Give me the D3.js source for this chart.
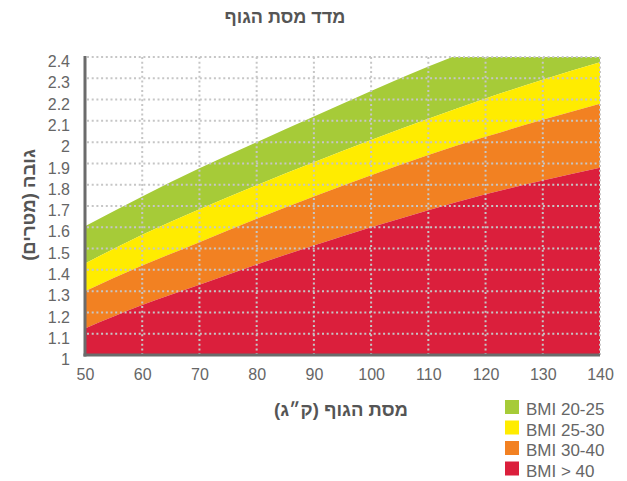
<!DOCTYPE html>
<html lang="he">
<head>
<meta charset="utf-8">
<script src="https://cdn.jsdelivr.net/npm/d3@7"></script>
<style>
  html, body { margin: 0; padding: 0; background: #fff; }
  svg { display: block; font-family: "Liberation Sans", Arial, Helvetica, sans-serif; }
</style>
</head>
<body>
<svg id="chart" width="627" height="481"></svg>
<script>
// Weight (kg) samples along the x axis
const weights = [50, 60, 70, 80, 90, 100, 110, 120, 130, 140];

// Height (m) of each BMI boundary at the weights above
const bmi20 = [1.605, 1.745, 1.877, 2.0, 2.12, 2.24, 2.355, 2.46, 2.56, 2.66];
const bmi25 = [1.43, 1.565, 1.685, 1.798, 1.905, 2.01, 2.11, 2.205, 2.293, 2.375];
const bmi30 = [1.30, 1.42, 1.53, 1.64, 1.745, 1.845, 1.94, 2.025, 2.105, 2.18];
const bmi40 = [1.125, 1.235, 1.33, 1.425, 1.515, 1.60, 1.68, 1.755, 1.82, 1.88];

// Tick values
const xTicks = [50, 60, 70, 80, 90, 100, 110, 120, 130, 140];
const yTicks = [1, 1.1, 1.2, 1.3, 1.4, 1.5, 1.6, 1.7, 1.8, 1.9, 2, 2.1, 2.2, 2.3, 2.4];

// Band names and colours (legend order)
const bandNames = ["BMI 20-25", "BMI 25-30", "BMI 30-40", "BMI > 40"];
const bandColors = ["#a6cb38", "#ffec00", "#f28122", "#db1f3c"];

const title = "מדד מסת הגוף";
const xTitle = "מסת הגוף (ק״ג)";
const yTitle = "גובה (מטרים)";

const svg = d3.select("#chart");
const plotLeft = 85, plotRight = 600, plotTop = 57, plotBottom = 355;

const x = d3.scaleLinear().domain([50, 140]).range([plotLeft, plotRight]);
const y = d3.scaleLinear().domain([1, 2.4]).range([plotBottom, plotTop]);

// Bands: each one spans from its lower boundary up to its upper boundary
const floor = weights.map(() => 1);
const bands = [
  { lo: bmi25, hi: bmi20 },
  { lo: bmi30, hi: bmi25 },
  { lo: bmi40, hi: bmi30 },
  { lo: floor, hi: bmi40 }
];

svg.append("clipPath").attr("id", "plot")
  .append("rect").attr("x", plotLeft).attr("y", plotTop)
  .attr("width", plotRight - plotLeft).attr("height", plotBottom - plotTop);

const area = d3.area()
  .x((d, i) => x(weights[i]))
  .curve(d3.curveMonotoneX);

const plot = svg.append("g").attr("clip-path", "url(#plot)");
bands.forEach((b, k) => {
  plot.append("path")
    .datum(weights)
    .attr("fill", bandColors[k])
    .attr("d", area.y0((d, i) => y(b.lo[i])).y1((d, i) => y(b.hi[i])));
});

// Dotted grid on top of the bands
const grid = svg.append("g")
  .attr("stroke", "#c6c6c6")
  .attr("stroke-width", 2)
  .attr("stroke-dasharray", "2,2.7");
grid.selectAll("line.h").data(yTicks.slice(1)).join("line")
  .attr("x1", plotLeft + 2).attr("x2", plotRight)
  .attr("y1", d => y(d)).attr("y2", d => y(d));
grid.selectAll("line.v").data(xTicks.slice(1)).join("line")
  .attr("x1", d => x(d)).attr("x2", d => x(d))
  .attr("y1", plotTop).attr("y2", plotBottom);

// Axes
const yAxis = d3.axisLeft(y).tickValues(yTicks).tickSize(0).tickPadding(15)
  .tickFormat(d3.format("~g"));
const gy = svg.append("g").attr("transform", `translate(${plotLeft},0)`).call(yAxis);
gy.select(".domain").remove();
gy.selectAll("text").attr("fill", "#666").attr("font-size", 16)
  .attr("font-family", "Liberation Sans, Arial, sans-serif").attr("dy", "0.6em");

const xAxis = d3.axisBottom(x).tickValues(xTicks).tickSize(0).tickPadding(14);
const gx = svg.append("g").attr("transform", `translate(0,${plotBottom})`).call(xAxis);
gx.select(".domain").remove();
gx.selectAll("text").attr("fill", "#666").attr("font-size", 16)
  .attr("font-family", "Liberation Sans, Arial, sans-serif");

svg.append("line")
  .attr("x1", plotLeft).attr("x2", plotLeft).attr("y1", plotTop - 1).attr("y2", plotBottom + 1.5)
  .attr("stroke", "#6b6b6b").attr("stroke-width", 3);
svg.append("line")
  .attr("x1", plotLeft - 1.5).attr("x2", plotRight).attr("y1", plotBottom).attr("y2", plotBottom)
  .attr("stroke", "#6b6b6b").attr("stroke-width", 3);

// Titles
svg.append("text").attr("x", 285).attr("y", 23)
  .attr("text-anchor", "middle").attr("direction", "rtl")
  .attr("font-weight", "bold").attr("font-size", 18).attr("fill", "#555")
  .text(title);

svg.append("text").attr("x", 341).attr("y", 416)
  .attr("text-anchor", "middle").attr("direction", "rtl")
  .attr("font-weight", "bold").attr("font-size", 18.5).attr("fill", "#555")
  .text(xTitle);

svg.append("text")
  .attr("transform", "translate(35,205) rotate(-90)")
  .attr("text-anchor", "middle").attr("direction", "rtl")
  .attr("font-weight", "bold").attr("font-size", 18.5).attr("fill", "#555")
  .text(yTitle);

// Legend
const legend = svg.append("g").attr("transform", "translate(505,400)");
const rows = legend.selectAll("g").data(bandNames).join("g")
  .attr("transform", (d, i) => `translate(0,${i * 20.5})`);
rows.append("rect").attr("width", 14).attr("height", 14)
  .attr("fill", (d, i) => bandColors[i]);
rows.append("text").attr("x", 21).attr("y", 15)
  .attr("font-size", 17).attr("fill", "#666").text(d => d);
</script>
</body>
</html>
